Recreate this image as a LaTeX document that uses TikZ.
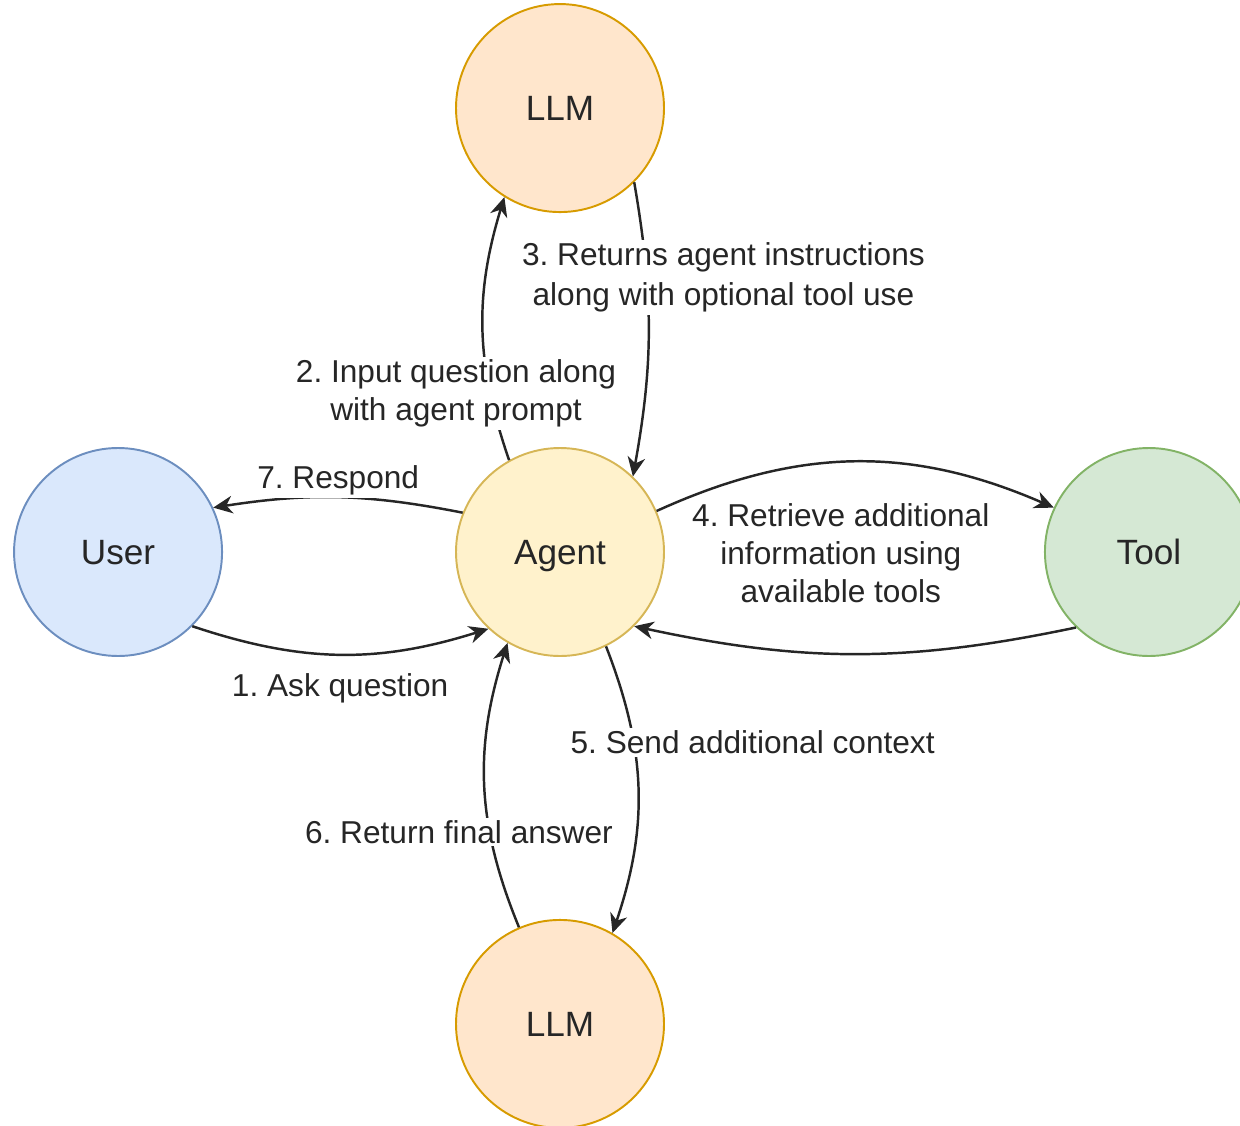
\documentclass[tikz,border=0pt]{standalone}
\usepackage{fontspec}
\setmainfont{Liberation Sans}
\usepackage{xcolor}
\usetikzlibrary{positioning,
	arrows.meta,
	calc}
\frenchspacing
\definecolor{llmfill}{HTML}{FFE6CC}
\definecolor{llmline}{HTML}{D79B00}
\definecolor{agentfill}{HTML}{FFF2CC}
\definecolor{agentline}{HTML}{D6B656}
\definecolor{userfill}{HTML}{DAE8FC}
\definecolor{userline}{HTML}{6C8EBF}
\definecolor{toolfill}{HTML}{D5E8D4}
\definecolor{toolline}{HTML}{82B366}
\definecolor{inktext}{HTML}{262626}
\tikzstyle{actor}=[circle, draw, line width=1.1pt, minimum size=4.16cm, inner sep=0,
	text height=14.3pt, text depth=0pt,
	text=inktext, font=\fontsize{20}{24}\selectfont]
\tikzstyle{llm node}=[actor, fill=llmfill, draw=llmline]
\tikzstyle{agent node}=[actor, fill=agentfill, draw=agentline]
\tikzstyle{user node}=[actor, fill=userfill, draw=userline]
\tikzstyle{tool node}=[actor, fill=toolfill, draw=toolline]
\tikzstyle{flow}=[-{Stealth[length=11pt, width=10pt, inset=3.5pt]}, line width=1.4pt,
	draw=inktext]
\tikzstyle{flow label}=[fill=white, inner sep=1.5pt, align=center, text=inktext,
	font=\fontsize{18}{21.6}\selectfont]

\begin{document}
\begin{tikzpicture}
            \useasboundingbox (0,0) rectangle (24.8,-22.52);
            \node[agent node] (agent) at (11.2,-11.04) {Agent};
            \node[llm node, above=4.68cm of agent] (llmtop) {LLM};
            \node[user node, left=4.64cm of agent] (user) {User};
            \node[tool node, right=7.58cm of agent] (tool) {Tool};
            \node[llm node, below=5.24cm of agent] (llmbot) {LLM};
            % user <-> agent
            \draw[flow] (user.-45) to[bend right=18]
                node[flow label, yshift=-0.68cm] {1. Ask question} (agent.-133);
            \draw[flow] (agent.158) to[bend right=10]
                node[flow label, yshift=0.34cm] {7. Respond} (user.25);
            % agent <-> upper llm
            \draw[flow] (agent.119) to[bend left=18]
                node[flow label, pos=0.27, xshift=-0.66cm, yshift=-0.14cm] {2. Input question along\\with agent prompt} (llmtop.-122);
            \draw[flow] (llmtop.-45) to[bend left=10]
                node[flow label, pos=0.3, xshift=1.54cm, yshift=-0.06cm,
                    font=\fontsize{18}{22.8}\selectfont] {3. Returns agent instructions\\along with optional tool use} (agent.46);
            % agent <-> tool
            \draw[flow] (agent.23) to[bend left=24]
                node[flow label, xshift=-0.28cm, yshift=-1.82cm] {4. Retrieve additional\\information using\\available tools} (tool.155);
            \draw[flow] (tool.-134) to[bend left=12] (agent.-45);
            % agent <-> lower llm
            \draw[flow] (agent.-64) to[bend left=20]
                node[flow label, pos=0.33, xshift=2.38cm] {5. Send additional context} (llmbot.60);
            \draw[flow] (llmbot.113) to[bend left=20]
                node[flow label, pos=0.35, xshift=-0.6cm, yshift=-0.1cm] {6. Return final answer} (agent.240);
        \end{tikzpicture}
\end{document}
